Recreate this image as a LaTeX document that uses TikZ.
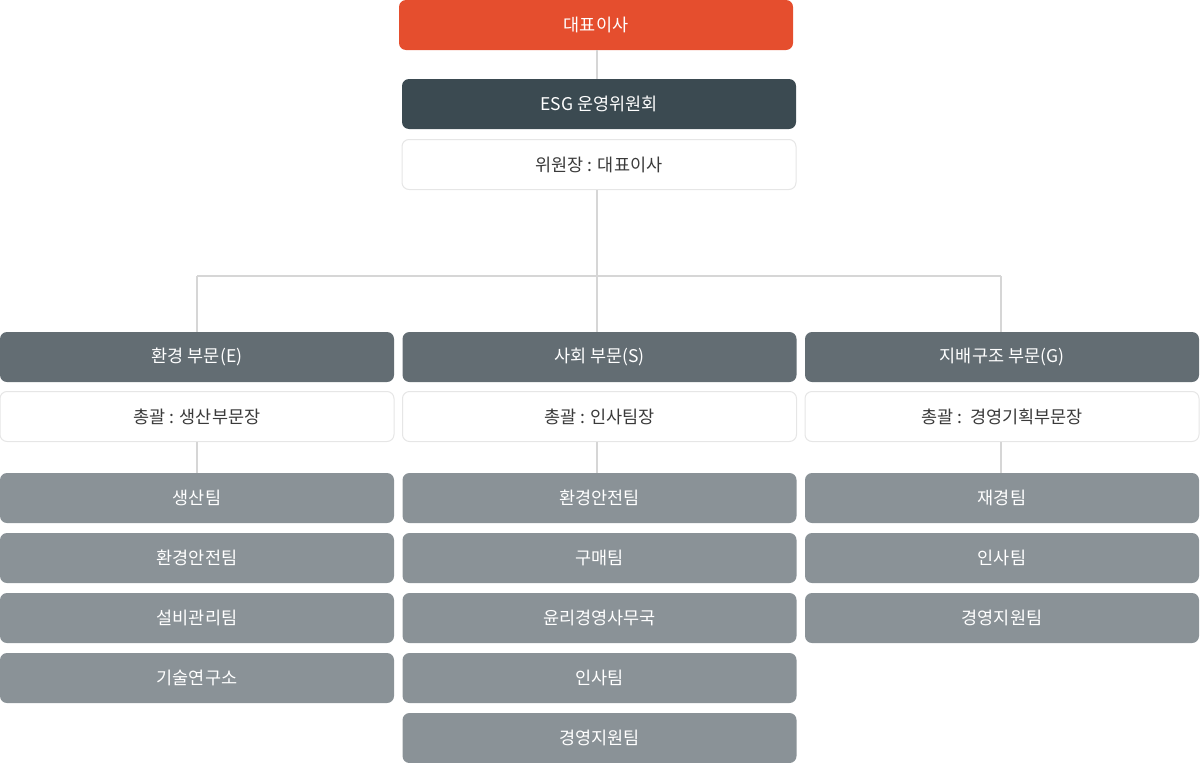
\documentclass[tikz,border=0pt]{standalone}
\usepackage{fontspec}
\setmainfont{Noto Sans CJK KR}
\definecolor{ceo}{HTML}{E54E2E}
\definecolor{esg}{HTML}{3B4A51}
\definecolor{sect}{HTML}{636D73}
\definecolor{team}{HTML}{8A9297}
\definecolor{bord}{HTML}{E6E6E6}
\definecolor{conn}{HTML}{D6D6D6}
\definecolor{txt}{HTML}{3A3A3A}
\tikzset{
  box/.style={rectangle, rounded corners=7pt, minimum width=394pt, minimum height=50pt, inner sep=0pt, font=\fontsize{17.5pt}{20pt}\selectfont},
  ceobox/.style={box, fill=ceo, text=white},
  esgbox/.style={box, fill=esg, text=white},
  sectbox/.style={box, fill=sect, text=white},
  teambox/.style={box, fill=team, text=white},
  infobox/.style={box, fill=white, draw=bord, line width=1pt, text=txt},
  link/.style={draw=conn, line width=2pt}
}
\begin{document}
\begin{tikzpicture}[x=1pt,y=-1pt]
\useasboundingbox (0,0) rectangle (1200,763);
\coordinate (j) at (597,276);
\coordinate (jl) at (197,276);
\coordinate (jr) at (1001,276);

\node[ceobox] (ceo) at (596,25) {대표이사};
\node[esgbox] (esg) at (599,104) {ESG 운영위원회};
\node[infobox] (chair) at (599,164.5) {위원장 : 대표이사};

\node[sectbox] (se) at (197,357) {환경 부문(E)};
\node[sectbox] (ss) at (599.5,357) {사회 부문(S)};
\node[sectbox] (sg) at (1002,357) {지배구조 부문(G)};

\node[infobox] (he) at (197,416.5) {총괄 : 생산부문장};
\node[infobox] (hs) at (599.5,416.5) {총괄 : 인사팀장};
\node[infobox] (hg) at (1002,416.5) {총괄 :\ \ 경영기획부문장};

\node[teambox] (e1) at (197,498) {생산팀};
\node[teambox] (e2) at (197,558) {환경안전팀};
\node[teambox] (e3) at (197,618) {설비관리팀};
\node[teambox] (e4) at (197,678) {기술연구소};

\node[teambox] (s1) at (599.5,498) {환경안전팀};
\node[teambox] (s2) at (599.5,558) {구매팀};
\node[teambox] (s3) at (599.5,618) {윤리경영사무국};
\node[teambox] (s4) at (599.5,678) {인사팀};
\node[teambox] (s5) at (599.5,738) {경영지원팀};

\node[teambox] (g1) at (1002,498) {재경팀};
\node[teambox] (g2) at (1002,558) {인사팀};
\node[teambox] (g3) at (1002,618) {경영지원팀};

% connectors, drawn on the gaps between boxes
\path[link] (ceo.south -| j) -- (esg.north -| j);
\path[link] (chair.south -| j) -- (j);
\path[link] (jl) -- (jr);
\path[link] (jl) -- (se.north -| jl);
\path[link] (j) -- (ss.north -| j);
\path[link] (jr) -- (sg.north -| jr);
\path[link] (he.south -| jl) -- (e1.north -| jl);
\path[link] (hs.south -| j) -- (s1.north -| j);
\path[link] (hg.south -| jr) -- (g1.north -| jr);
\end{tikzpicture}
\end{document}
